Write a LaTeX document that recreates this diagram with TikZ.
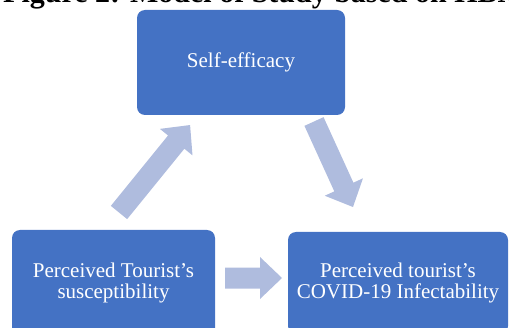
\documentclass[tikz,border=0pt]{standalone}
\usepackage{fontspec}
\setmainfont{Liberation Serif}
\definecolor{boxblue}{HTML}{4472C4}
\definecolor{arrowblue}{HTML}{AFBCDE}
\newcommand\blockarrow[3]{% tail coordinate, angle, length
  \begin{scope}[shift={(#1)}, rotate=#2]
    \fill[arrowblue] (0,-10.5) -- (#3-22,-10.5) -- (#3-22,-21) -- (#3,0)
      -- (#3-22,21) -- (#3-22,10.5) -- (0,10.5) -- cycle;
  \end{scope}}
\begin{document}
\begin{tikzpicture}[x=1pt,y=1pt,
  box/.style={draw=none, fill=boxblue, rounded corners=8pt, text=white,
    font=\fontsize{21}{21}\selectfont, align=center, inner sep=0pt},
  title/.style={font=\fontsize{30}{32}\selectfont\bfseries, inner sep=0pt, anchor=base west}]
\useasboundingbox (0,0) rectangle (509,327);
\clip (0,0) rectangle (509,327);
\node[title] (ttl) at (3,324) {Figure 2: Model of Study based on HBM};
\node[box, minimum width=208pt, minimum height=105pt] (se) at (241,264.5) {Self-efficacy};
\node[box, minimum width=203pt, minimum height=106pt] (ps) at (113.5,44) {Perceived Tourist’s\\susceptibility};
\node[box, minimum width=220pt, minimum height=102pt] (pi) at (398,44) {Perceived tourist’s\\COVID-19 Infectability};
\coordinate (t1) at (119,114.5);
\coordinate (t2) at (314,205.5);
\coordinate (t3) at (225,49);
\blockarrow{t1}{50.9}{112.7}
\blockarrow{t2}{-65.5}{94}
\blockarrow{t3}{0}{57}
\end{tikzpicture}
\end{document}
